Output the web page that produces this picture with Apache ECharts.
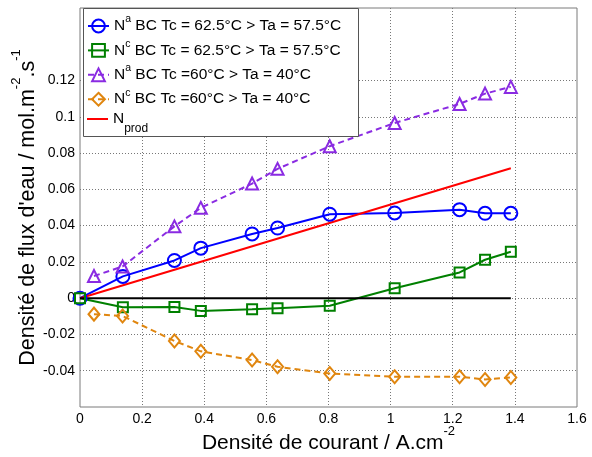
<!DOCTYPE html>
<html><head><meta charset="utf-8">
<script src="https://cdn.jsdelivr.net/npm/echarts@6/dist/echarts.min.js"></script>
<style>html,body{margin:0;padding:0;background:#fff}#c{width:592px;height:457px}</style>
</head><body><div id="c"></div>
<script>
// ---- data ----
const xA = [0, 0.138, 0.304, 0.389, 0.554, 0.636, 0.804, 1.013, 1.222, 1.304, 1.387];
const xB = [0.045, 0.137, 0.304, 0.389, 0.554, 0.636, 0.804, 1.013, 1.222, 1.304, 1.387];
const blueNa = [0, 0.0120, 0.0208, 0.0276, 0.0354, 0.0387, 0.0463, 0.0470, 0.0488, 0.0468, 0.0468];
const greenNc = [0, -0.0050, -0.0048, -0.0070, -0.0061, -0.0055, -0.0042, 0.0055, 0.0142, 0.0212, 0.0256];
const purpleNa = [0.0122, 0.0175, 0.0396, 0.0498, 0.0632, 0.0713, 0.0838, 0.0966, 0.1071, 0.1128, 0.1165];
const orangeNc = [-0.0088, -0.0098, -0.0236, -0.0293, -0.0341, -0.0378, -0.0415, -0.0433, -0.0433, -0.0448, -0.0437];
const prodX = [0, 1.387];
const prodY = [0, 0.0716];
const zeroX = [0, 1.387];
const zeroY = [0, 0];
const yTickLabels = [-0.04, -0.02, 0, 0.02, 0.04, 0.06, 0.08, 0.1, 0.12];
const names = ['Na BC Tc = 62.5°C > Ta = 57.5°C', 'Nc BC Tc = 62.5°C > Ta = 57.5°C',
               'Na BC Tc =60°C > Ta = 40°C', 'Nc BC Tc =60°C > Ta = 40°C', 'Nprod'];
const legendRich = {
  [names[0]]: '{n|N}{sup|a}{n| BC Tc = 62.5°C > Ta = 57.5°C}',
  [names[1]]: '{n|N}{sup|c}{n| BC Tc = 62.5°C > Ta = 57.5°C}',
  [names[2]]: '{n|N}{sup|a}{n| BC Tc =60°C > Ta = 40°C}',
  [names[3]]: '{n|N}{sup|c}{n| BC Tc =60°C > Ta = 40°C}',
  [names[4]]: '{n|N}{sub|prod}'
};

const FONT = '"Liberation Sans", Arial, Helvetica, sans-serif';
const zip = (xs, ys) => xs.map((x, i) => [x, ys[i]]);
const chart = echarts.init(document.getElementById('c'));

function mk(name, xs, ys, color, symbol, size, dashed) {
  return {
    name, type: 'line', data: zip(xs, ys), symbol, symbolSize: size,
    lineStyle: { color, width: 2, type: dashed ? [6, 4] : 'solid' },
    itemStyle: { color: 'rgba(0,0,0,0)', borderColor: color, borderWidth: 2 },
    emphasis: { disabled: true }, animation: false, z: 3
  };
}

const gridColors = ['#777','#777','#777','#777','#777','#777','#777','#777','#777','rgba(0,0,0,0)','rgba(0,0,0,0)'];

chart.setOption({
  animation: false,
  grid: { left: 80, right: 15, top: 8, bottom: 50, outerBoundsMode: 'none', containLabel: false,
          show: true, borderColor: '#7a7a7a', borderWidth: 1, backgroundColor: '#fff' },
  xAxis: {
    type: 'value', min: 0, max: 1.6, interval: 0.2,
    name: '{t|Densité de courant / A.cm}{s|-2}', nameLocation: 'middle', nameGap: 18, nameMoveOverlap: false,
    nameTextStyle: { rich: { t: { fontSize: 21, fontFamily: FONT, color: '#000', lineHeight: 36 },
                             s: { fontSize: 13, fontFamily: FONT, color: '#000', verticalAlign: 'top' } } },
    axisLine: { show: false }, axisTick: { show: false },
    axisLabel: { color: '#000', fontSize: 14, fontFamily: FONT, margin: 5,
      formatter: v => String(Math.round(v * 10) / 10) },
    splitLine: { show: true, showMinLine: false, showMaxLine: false, lineStyle: { color: '#777', width: 1, type: [1, 2] } }
  },
  yAxis: {
    type: 'value', min: -0.06, max: 0.16, interval: 0.02,
    name: "{t|Densité de flux d'eau / mol.m}{s|-2}{t|.s}{s|-1}", nameLocation: 'middle', nameGap: 34, nameMoveOverlap: false,
    nameTextStyle: { rich: { t: { fontSize: 21.5, fontFamily: FONT, color: '#000', lineHeight: 36 },
                             s: { fontSize: 13, fontFamily: FONT, color: '#000', verticalAlign: 'top' } } },
    axisLine: { show: false }, axisTick: { show: false },
    axisLabel: { color: '#000', fontSize: 14, fontFamily: FONT, margin: 5,
      formatter: v => { const r = Math.round(v * 100) / 100; return yTickLabels.indexOf(r) >= 0 ? String(r) : ''; } },
    splitLine: { show: true, showMinLine: false, showMaxLine: false, lineStyle: { color: gridColors, width: 1, type: [1, 2] } }
  },
  graphic: { elements: [{ type: 'rect', z: 50, shape: { x: 83.5, y: 8.5, width: 275, height: 128 },
    style: { fill: '#fff', stroke: '#555', lineWidth: 1 } }] },
  legend: [
    { data: names.slice(0, 4), orient: 'vertical', left: 87, top: 14, padding: 0, itemGap: 4.4,
      itemWidth: 21, itemHeight: 16, selectedMode: false, z: 60,
      formatter: n => legendRich[n],
      textStyle: { rich: { n: { fontSize: 15.5, fontFamily: FONT, color: '#000', lineHeight: 24 },
                           sup: { fontSize: 10.5, fontFamily: FONT, color: '#000', verticalAlign: 'top', lineHeight: 13 } } } },
    { data: [{ name: names[4], icon: 'rect' }], orient: 'vertical', left: 87, top: 111, padding: 0,
      itemWidth: 21, itemHeight: 2, selectedMode: false, z: 60,
      itemStyle: { color: '#ff0000', borderWidth: 0 },
      formatter: n => legendRich[n],
      textStyle: { rich: { n: { fontSize: 15.5, fontFamily: FONT, color: '#000', lineHeight: 32 },
                           sub: { fontSize: 12, fontFamily: FONT, color: '#000', verticalAlign: 'bottom', lineHeight: 14 } } } }
  ],
  series: [
    mk(names[0], xA, blueNa, '#0000ff', 'circle', 13, false),
    mk(names[1], xA, greenNc, '#008000', 'rect', 10, false),
    mk(names[2], xB, purpleNa, '#8a2be2', 'triangle', 12, true),
    mk(names[3], xB, orangeNc, '#e0860f', 'diamond', [11, 13], true),
    { name: names[4], type: 'line', data: zip(prodX, prodY), symbol: 'none',
      lineStyle: { color: '#ff0000', width: 2 }, itemStyle: { color: '#ff0000' }, emphasis: { disabled: true }, z: 3 },
    { name: 'zero', type: 'line', data: zip(zeroX, zeroY), symbol: 'none',
      lineStyle: { color: '#000', width: 2 }, itemStyle: { color: '#000' }, emphasis: { disabled: true }, z: 3 }
  ]
});
</script>
</body></html>
